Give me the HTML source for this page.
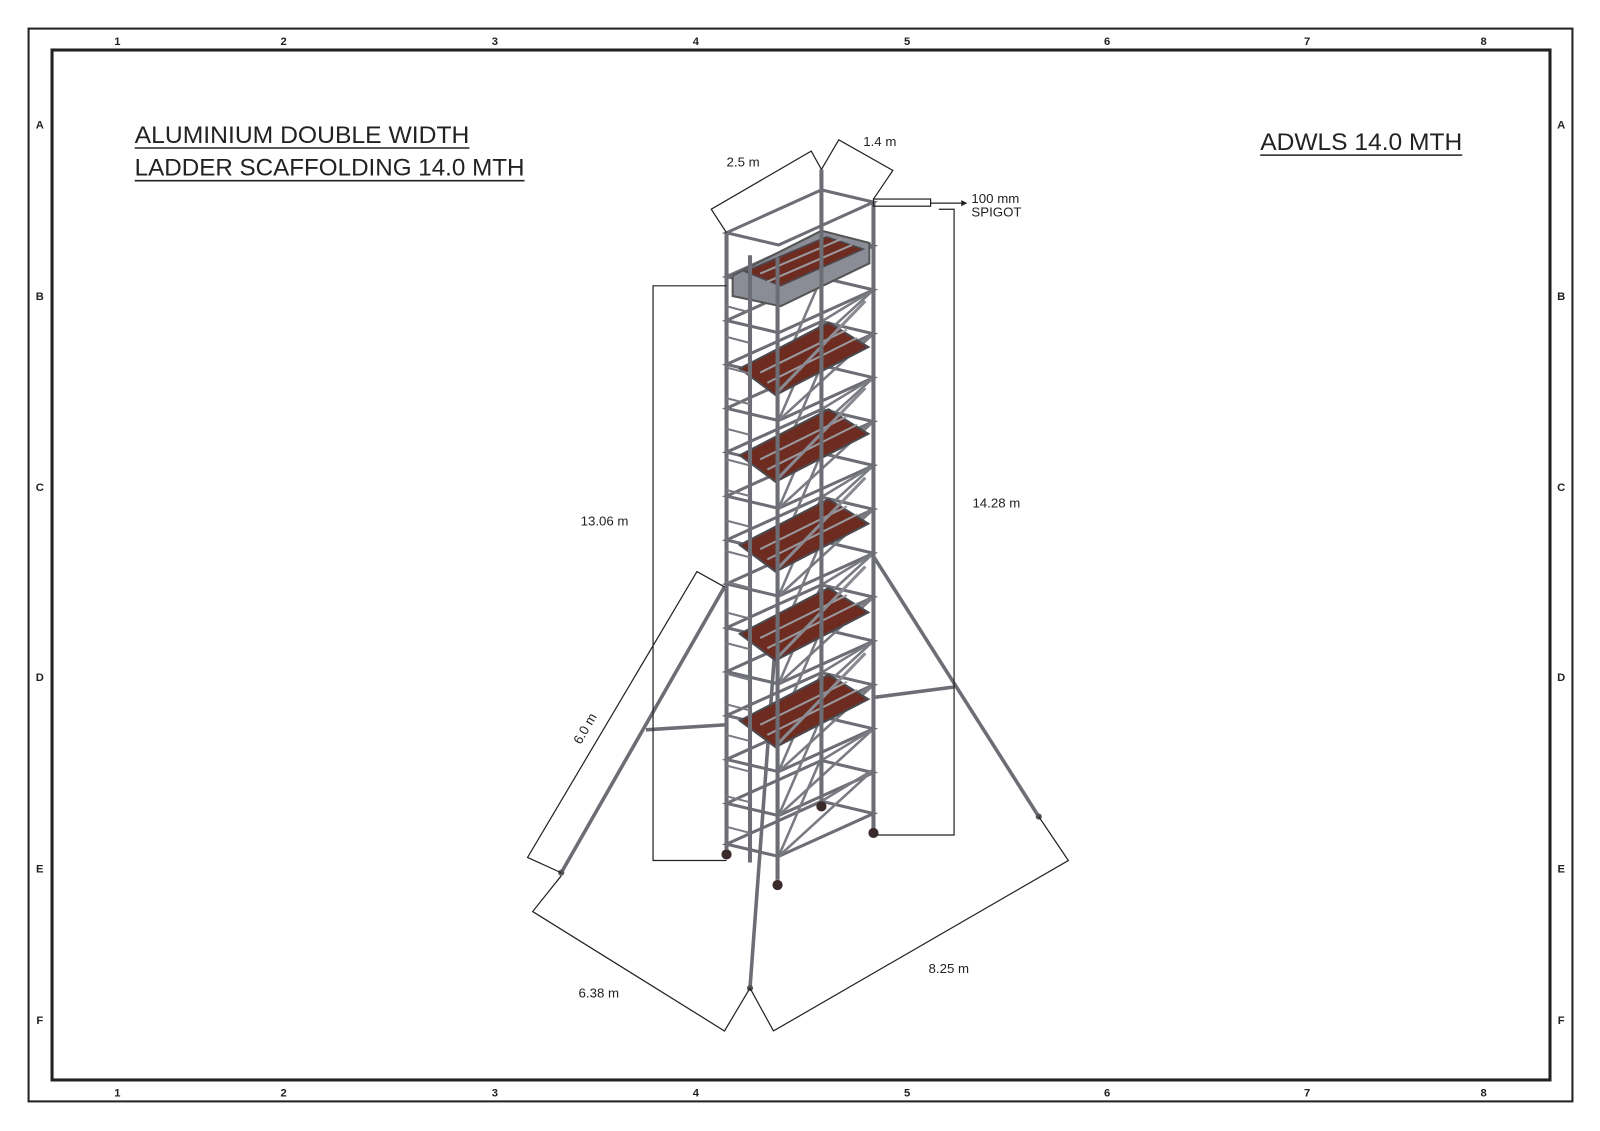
<!DOCTYPE html>
<html><head><meta charset="utf-8"><style>
html,body{margin:0;padding:0;background:#fff;}
svg{display:block;}
text{font-family:"Liberation Sans Narrow","Liberation Sans",sans-serif;fill:#222;}
</style></head><body>
<svg width="1600" height="1131" viewBox="0 0 1568 1108" preserveAspectRatio="none" xmlns="http://www.w3.org/2000/svg">
<defs>
<g id="lvl" stroke="#6d6e75" stroke-width="3" fill="none">
<polygon points="712,42 805,0 856,12 763,54"/>
</g>
<g id="brL" stroke="#7a7b82" stroke-width="2.5">
<line x1="763" y1="54" x2="805" y2="-43"/>
<line x1="805" y1="0" x2="856" y2="-31"/>
<line x1="763" y1="54" x2="856" y2="-31"/>
</g>
<g id="plat">
<polygon points="725,46 812,1 851,25 760,72" fill="#6e2c20" stroke="#4a4a50" stroke-width="2"/>
<line x1="745" y1="50" x2="830" y2="8" stroke="#9a9aa0" stroke-width="2"/>
<line x1="752" y1="60" x2="840" y2="16" stroke="#9a9aa0" stroke-width="2"/>
<line x1="763" y1="68" x2="848" y2="-20" stroke="#8a8b92" stroke-width="3"/>
</g>
</defs>
<rect x="28" y="28" width="1513" height="1051" fill="none" stroke="#222" stroke-width="2"/>
<rect x="51" y="49" width="1468" height="1009" fill="none" stroke="#222" stroke-width="3"/>
<g font-size="11" font-weight="bold" text-anchor="middle">
<text x="115" y="44">1</text><text x="278" y="44">2</text><text x="485" y="44">3</text><text x="682" y="44">4</text><text x="889" y="44">5</text><text x="1085" y="44">6</text><text x="1281" y="44">7</text><text x="1454" y="44">8</text>
<text x="115" y="1074">1</text><text x="278" y="1074">2</text><text x="485" y="1074">3</text><text x="682" y="1074">4</text><text x="889" y="1074">5</text><text x="1085" y="1074">6</text><text x="1281" y="1074">7</text><text x="1454" y="1074">8</text>
<text x="39" y="126">A</text><text x="39" y="294">B</text><text x="39" y="481">C</text><text x="39" y="667">D</text><text x="39" y="855">E</text><text x="39" y="1003">F</text>
<text x="1530" y="126">A</text><text x="1530" y="294">B</text><text x="1530" y="481">C</text><text x="1530" y="667">D</text><text x="1530" y="855">E</text><text x="1530" y="1003">F</text>
</g>
<text x="132" y="140" font-size="24" textLength="328" lengthAdjust="spacingAndGlyphs">ALUMINIUM DOUBLE WIDTH</text>
<line x1="132" y1="145" x2="460" y2="145" stroke="#222" stroke-width="1.5"/>
<text x="132" y="172" font-size="24" textLength="382" lengthAdjust="spacingAndGlyphs">LADDER SCAFFOLDING 14.0 MTH</text>
<line x1="132" y1="177" x2="514" y2="177" stroke="#222" stroke-width="1.5"/>
<text x="1235" y="147" font-size="24" textLength="198" lengthAdjust="spacingAndGlyphs">ADWLS 14.0 MTH</text>
<line x1="1235" y1="152" x2="1433" y2="152" stroke="#222" stroke-width="1.5"/>

<g stroke="#6d6e75" stroke-width="3.5" fill="none">
<line x1="710" y1="575" x2="550" y2="855"/>
<line x1="633" y1="715" x2="712" y2="710"/>
<line x1="762" y1="600" x2="735" y2="968"/>
<line x1="856" y1="545" x2="1018" y2="800"/>
<line x1="858" y1="683" x2="935" y2="673"/>
</g>
<g>
<use href="#lvl" transform="translate(0,186)"/><use href="#lvl" transform="translate(0,229)"/><use href="#lvl" transform="translate(0,272)"/><use href="#lvl" transform="translate(0,315)"/><use href="#lvl" transform="translate(0,358)"/><use href="#lvl" transform="translate(0,401)"/><use href="#lvl" transform="translate(0,444)"/><use href="#lvl" transform="translate(0,487)"/><use href="#lvl" transform="translate(0,530)"/><use href="#lvl" transform="translate(0,573)"/><use href="#lvl" transform="translate(0,616)"/><use href="#lvl" transform="translate(0,659)"/><use href="#lvl" transform="translate(0,702)"/><use href="#lvl" transform="translate(0,745)"/><use href="#lvl" transform="translate(0,785)"/>
<use href="#brL" transform="translate(0,315)"/><use href="#brL" transform="translate(0,358)"/><use href="#brL" transform="translate(0,401)"/><use href="#brL" transform="translate(0,444)"/><use href="#brL" transform="translate(0,487)"/><use href="#brL" transform="translate(0,530)"/><use href="#brL" transform="translate(0,573)"/><use href="#brL" transform="translate(0,616)"/><use href="#brL" transform="translate(0,659)"/><use href="#brL" transform="translate(0,702)"/><use href="#brL" transform="translate(0,745)"/><use href="#brL" transform="translate(0,785)"/>
</g>
<!-- top platform in grey tray -->
<polygon points="718,270 805,226 852,238 852,258 765,300 718,290" fill="#8a8d96" stroke="#555" stroke-width="2"/>
<polygon points="730,266 810,232 846,244 765,280" fill="#6e2c20" stroke="#4a4a50" stroke-width="1.5"/>
<line x1="745" y1="268" x2="825" y2="234" stroke="#9a9aa0" stroke-width="2"/>
<line x1="752" y1="276" x2="835" y2="240" stroke="#9a9aa0" stroke-width="2"/>
<use href="#plat" transform="translate(0,315)"/>
<use href="#plat" transform="translate(0,400)"/>
<use href="#plat" transform="translate(0,488)"/>
<use href="#plat" transform="translate(0,575)"/>
<use href="#plat" transform="translate(0,660)"/>
<g stroke="#6d6e75" stroke-width="4">
<line x1="712" y1="228" x2="712" y2="832"/>
<line x1="735" y1="250" x2="735" y2="845"/>
<line x1="762" y1="252" x2="762" y2="862"/>
<line x1="805" y1="166" x2="805" y2="786"/>
<line x1="856" y1="198" x2="856" y2="812"/>
</g>
<g stroke="#7a7b82" stroke-width="2">
<line x1="712" y1="300" x2="735" y2="306"/><line x1="712" y1="330" x2="735" y2="336"/><line x1="712" y1="360" x2="735" y2="366"/><line x1="712" y1="390" x2="735" y2="396"/><line x1="712" y1="420" x2="735" y2="426"/><line x1="712" y1="450" x2="735" y2="456"/><line x1="712" y1="480" x2="735" y2="486"/><line x1="712" y1="510" x2="735" y2="516"/><line x1="712" y1="540" x2="735" y2="546"/><line x1="712" y1="570" x2="735" y2="576"/><line x1="712" y1="600" x2="735" y2="606"/><line x1="712" y1="630" x2="735" y2="636"/><line x1="712" y1="660" x2="735" y2="666"/><line x1="712" y1="690" x2="735" y2="696"/><line x1="712" y1="720" x2="735" y2="726"/><line x1="712" y1="750" x2="735" y2="756"/><line x1="712" y1="780" x2="735" y2="786"/><line x1="712" y1="810" x2="735" y2="816"/>
</g>
<g fill="#3a2a2a"><circle cx="712" cy="837" r="5"/><circle cx="762" cy="867" r="5"/><circle cx="856" cy="816" r="5"/><circle cx="805" cy="790" r="5"/></g>
<g fill="#555"><circle cx="550" cy="855" r="3"/><circle cx="735" cy="968" r="3"/><circle cx="1018" cy="800" r="3"/></g>

<g stroke="#222" stroke-width="1.2" fill="none">
<polyline points="712,280 640,280 640,843 712,843"/>
<polyline points="920,205 935,205 935,818 858,818"/>
<rect x="856" y="195" width="56" height="7"/>
<line x1="912" y1="199" x2="942" y2="199"/>
<polyline points="712,228 697,205 795,148 805,166"/>
<polyline points="805,166 822,137 875,167 856,195"/>
<polyline points="710,575 683,560 517,840 550,855"/>
<polyline points="550,858 522,893 710,1010 735,968"/>
<polyline points="735,968 758,1010 1047,843 1018,800"/>
</g>
<polygon points="942,196 948,199 942,202" fill="#222"/>
<g font-size="13">
<text x="952" y="199">100 mm</text>
<text x="952" y="212">SPIGOT</text>
<text x="712" y="163">2.5 m</text>
<text x="846" y="143">1.4 m</text>
<text x="569" y="515">13.06 m</text>
<text x="953" y="497">14.28 m</text>
<text x="567" y="977">6.38 m</text>
<text x="910" y="953">8.25 m</text>
<text x="0" y="0" transform="translate(569,730) rotate(-60)">6.0 m</text>
</g>
</svg>
</body></html>
